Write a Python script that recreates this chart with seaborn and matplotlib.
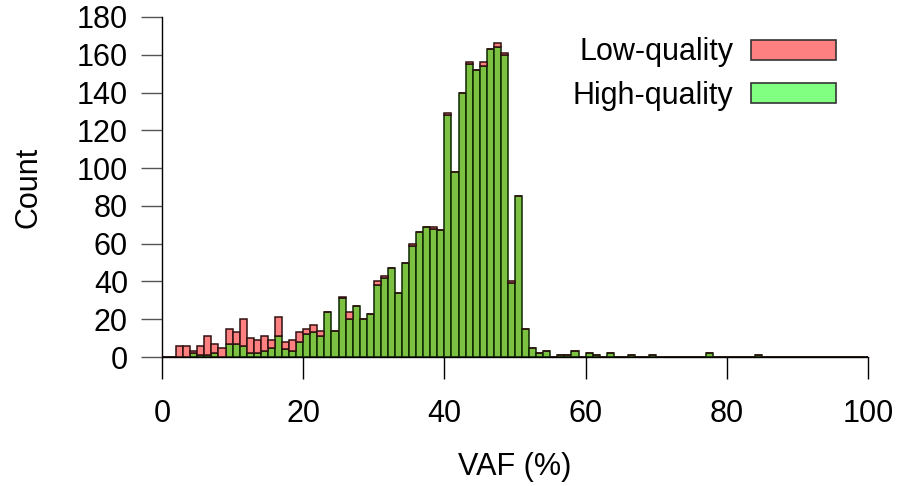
import numpy as np
import pandas as pd
import matplotlib
matplotlib.use('Agg')
import matplotlib.pyplot as plt
from matplotlib.patches import Patch
import seaborn as sns

# histogram counts per 1% VAF bin, bins 0..84 (nothing beyond)
total_counts = [0, 0, 6, 6, 3, 6, 11, 7, 5, 15,
                13, 20, 10, 9, 11, 9, 21, 8, 9, 13,
                15, 17, 14, 24, 14, 32, 24, 27, 20, 23,
                40, 43, 47, 34, 50, 60, 66, 69, 69, 67,
                129, 98, 140, 156, 152, 156, 163, 166, 161, 40,
                85, 15, 5, 2, 3, 0, 1, 1, 3, 0,
                2, 1, 0, 2, 0, 0, 1, 0, 0, 1,
                0, 0, 0, 0, 0, 0, 0, 2, 0, 0,
                0, 0, 0, 0, 1]
high_counts = [0, 0, 0, 0, 2, 1, 1, 2, 0, 7,
               7, 6, 2, 2, 3, 5, 11, 4, 3, 8,
               12, 13, 11, 24, 14, 31, 20, 27, 20, 23,
               38, 42, 47, 34, 50, 59, 66, 69, 68, 67,
               128, 98, 140, 155, 152, 154, 163, 164, 160, 39,
               85, 15, 5, 2, 3, 0, 1, 1, 3, 0,
               2, 1, 0, 2, 0, 0, 1, 0, 0, 1,
               0, 0, 0, 0, 0, 0, 0, 2, 0, 0,
               0, 0, 0, 0, 1]
low_counts = [t - h for t, h in zip(total_counts, high_counts)]
bin_starts = list(range(len(total_counts)))

labels = ['Low-quality', 'High-quality']
bar_colors = {'Low-quality': '#ff8080', 'High-quality': '#7cc142'}
edge_colors = {'Low-quality': '#301010', 'High-quality': '#0c2600'}
legend_colors = {'Low-quality': '#ff8080', 'High-quality': '#80ff80'}

df = pd.DataFrame({
    'vaf': [b + 0.5 for b in bin_starts] * 2,
    'count': low_counts + high_counts,
    'quality': ['Low-quality'] * len(bin_starts) + ['High-quality'] * len(bin_starts),
})

sns.set_style('white')
plt.rcParams['font.family'] = ['Liberation Sans', 'DejaVu Sans']
plt.rcParams['text.color'] = 'black'
plt.rcParams['axes.labelcolor'] = 'black'
plt.rcParams['xtick.color'] = 'black'
plt.rcParams['ytick.color'] = 'black'

fs = 22

fig = plt.figure(figsize=(9.02, 4.86), dpi=100)
ax = fig.add_axes([162 / 902, 1 - 357 / 486, 706 / 902, 340 / 486])

sns.histplot(data=df, x='vaf', weights='count', hue='quality', hue_order=labels,
             multiple='stack', binwidth=1, binrange=(0, 100),
             palette=bar_colors, alpha=1, linewidth=1.1, legend=False, ax=ax)

# darker outlines matching each fill
for p in ax.patches:
    fc = matplotlib.colors.to_hex(p.get_facecolor())
    if fc == bar_colors['High-quality']:
        p.set_edgecolor(edge_colors['High-quality'])
    else:
        p.set_edgecolor(edge_colors['Low-quality'])

ax.set_xlim(0, 100)
ax.set_ylim(0, 180)
ax.set_xticks(range(0, 101, 20))
ax.set_yticks(range(0, 181, 20))
ax.tick_params(axis='x', direction='out', length=16, width=1, pad=14, labelsize=fs, bottom=True)
ax.tick_params(axis='y', direction='out', length=15, width=1, pad=9.5, labelsize=fs, color='#555555', left=True)
ax.set_xlabel('VAF (%)', fontsize=fs, labelpad=17)
ax.set_ylabel('Count', fontsize=fs, labelpad=24)
sns.despine(ax=ax)
for s in ['left', 'bottom']:
    ax.spines[s].set_color('black')
    ax.spines[s].set_linewidth(1)

handles = [Patch(facecolor=legend_colors[l], edgecolor='#333333', linewidth=1.2) for l in labels]
ax.legend(handles, labels, loc='upper right', bbox_to_anchor=(0.954, 0.94),
          frameon=False, fontsize=fs, markerfirst=False, handlelength=2.75,
          handleheight=0.62, handletextpad=0.6, labelspacing=0.45,
          borderpad=0, borderaxespad=0)

fig.savefig('out.png', dpi=100)
